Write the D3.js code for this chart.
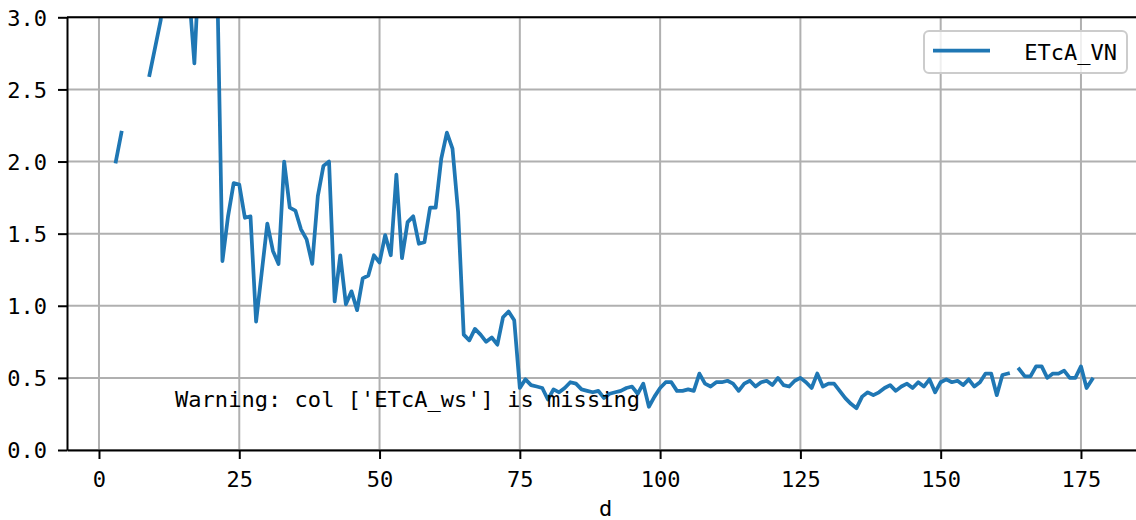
<!DOCTYPE html>
<html>
<head>
<meta charset="utf-8">
<script src="https://cdn.jsdelivr.net/npm/d3@7"></script>
<style>
  body { margin: 0; background: #fff; }
  svg { display: block; font-family: "DejaVu Sans Mono", monospace; }
</style>
</head>
<body>
<svg width="1136" height="520"></svg>
<script>
// day index of the series (d)
const days = d3.range(3, 178);

// ETcA_VN values, one per day from d=3 to d=177 (null = missing)
const etcaVN = [
  2.0, 2.2, null, null, null, null, 2.6, 2.79, 2.98, 3.5,
  4.1, 4.6, 3.9, 3.2, 2.68, 3.5, 4.4, 4.9, 3.4, 1.31,
  1.62, 1.85, 1.84, 1.61, 1.62, 0.89, 1.23, 1.57, 1.38, 1.29,
  2.0, 1.68, 1.66, 1.53, 1.46, 1.29, 1.76, 1.97, 2.0, 1.03,
  1.35, 1.01, 1.10, 0.97, 1.19, 1.21, 1.35, 1.30, 1.49, 1.35,
  1.91, 1.33, 1.58, 1.62, 1.43, 1.44, 1.68, 1.68, 2.02, 2.20,
  2.09, 1.65, 0.80, 0.76, 0.84, 0.80, 0.75, 0.78, 0.73, 0.92,
  0.96, 0.90, 0.43, 0.49, 0.45, 0.44, 0.43, 0.35, 0.42, 0.40,
  0.43, 0.47, 0.46, 0.42, 0.41, 0.40, 0.41, 0.36, 0.39, 0.40,
  0.41, 0.43, 0.44, 0.39, 0.46, 0.30, 0.37, 0.43, 0.47, 0.47,
  0.41, 0.41, 0.42, 0.41, 0.53, 0.46, 0.44, 0.47, 0.47, 0.48,
  0.46, 0.41, 0.46, 0.48, 0.44, 0.47, 0.48, 0.45, 0.50, 0.45,
  0.44, 0.48, 0.50, 0.47, 0.43, 0.53, 0.44, 0.46, 0.46, 0.41,
  0.36, 0.32, 0.29, 0.37, 0.40, 0.38, 0.40, 0.43, 0.45, 0.41,
  0.44, 0.46, 0.43, 0.47, 0.44, 0.49, 0.40, 0.47, 0.49, 0.47,
  0.48, 0.45, 0.49, 0.44, 0.47, 0.53, 0.53, 0.38, 0.52, 0.53,
  null, 0.56, 0.51, 0.51, 0.58, 0.58, 0.50, 0.53, 0.53, 0.55,
  0.50, 0.50, 0.58, 0.43, 0.49
];

const xTicks = [0, 25, 50, 75, 100, 125, 150, 175];
const yTicks = [0, 0.5, 1.0, 1.5, 2.0, 2.5, 3.0];
const seriesName = "ETcA_VN";
const xLabel = "d";
const warningText = "Warning: col ['ETcA_ws'] is missing";

const svg = d3.select("svg");
const pLeft = 67, pRight = 1141, pTop = 17.3, pBottom = 450;
const blue = "#1f77b4";

const x = d3.scaleLinear().domain([-5.7, 185.7]).range([pLeft, pRight]);
const y = d3.scaleLinear().domain([0, 3]).range([pBottom, pTop]);

// grid
const grid = svg.append("g").attr("stroke", "#b0b0b0").attr("stroke-width", 2);
grid.selectAll(".gx").data(xTicks).enter().append("line")
  .attr("x1", d => x(d)).attr("x2", d => x(d))
  .attr("y1", pTop).attr("y2", pBottom);
grid.selectAll(".gy").data(yTicks).enter().append("line")
  .attr("x1", pLeft).attr("x2", pRight)
  .attr("y1", d => y(d)).attr("y2", d => y(d));

// line
svg.append("clipPath").attr("id", "clip")
  .append("rect").attr("x", pLeft).attr("y", pTop)
  .attr("width", pRight - pLeft).attr("height", pBottom - pTop);

const pts = days.map((d, i) => ({ d: d, v: etcaVN[i] }));
const line = d3.line()
  .defined(p => p.v != null)
  .x(p => x(p.d))
  .y(p => y(p.v));

svg.append("path")
  .datum(pts)
  .attr("clip-path", "url(#clip)")
  .attr("fill", "none")
  .attr("stroke", blue)
  .attr("stroke-width", 3.75)
  .attr("stroke-linejoin", "round")
  .attr("stroke-linecap", "square")
  .attr("d", line);

// axes
const xAxis = svg.append("g")
  .attr("transform", `translate(0,${pBottom})`)
  .call(d3.axisBottom(x).tickValues(xTicks).tickSize(9).tickSizeOuter(0).tickPadding(12.4));
const yAxis = svg.append("g")
  .attr("transform", `translate(${pLeft},0)`)
  .call(d3.axisLeft(y).tickValues(yTicks).tickFormat(d3.format(".1f")).tickSize(9).tickSizeOuter(0).tickPadding(11));

[xAxis, yAxis].forEach(a => {
  a.attr("font-family", null).attr("font-size", null);
  a.select(".domain").attr("stroke", "#000").attr("stroke-width", 2);
  a.selectAll(".tick line").attr("stroke", "#000").attr("stroke-width", 2);
  a.selectAll(".tick text").attr("fill", "#000").style("font-size", "22px");
});
yAxis.selectAll(".tick text").attr("dy", "0.36em");

// top spine
svg.append("line")
  .attr("x1", pLeft).attr("x2", pRight)
  .attr("y1", pTop).attr("y2", pTop)
  .attr("stroke", "#000").attr("stroke-width", 2);

// x label
svg.append("text")
  .attr("x", (pLeft + 1136) / 2 + 4).attr("y", 516)
  .attr("text-anchor", "middle")
  .style("font-size", "22px")
  .text(xLabel);

// warning text
svg.append("text")
  .attr("x", 175).attr("y", 407)
  .attr("textLength", 465)
  .style("font-size", "22px")
  .text(warningText);

// legend
const lg = svg.append("g");
lg.append("rect")
  .attr("x", 924).attr("y", 31).attr("width", 203).attr("height", 42)
  .attr("rx", 5)
  .attr("fill", "#fff").attr("fill-opacity", 0.8)
  .attr("stroke", "#cccccc").attr("stroke-width", 2);
lg.append("line")
  .attr("x1", 933).attr("x2", 990).attr("y1", 50.7).attr("y2", 50.7)
  .attr("stroke", blue).attr("stroke-width", 3.75);
lg.append("text")
  .attr("x", 1117).attr("y", 60)
  .attr("text-anchor", "end")
  .style("font-size", "22px")
  .text(seriesName);
</script>
</body>
</html>
